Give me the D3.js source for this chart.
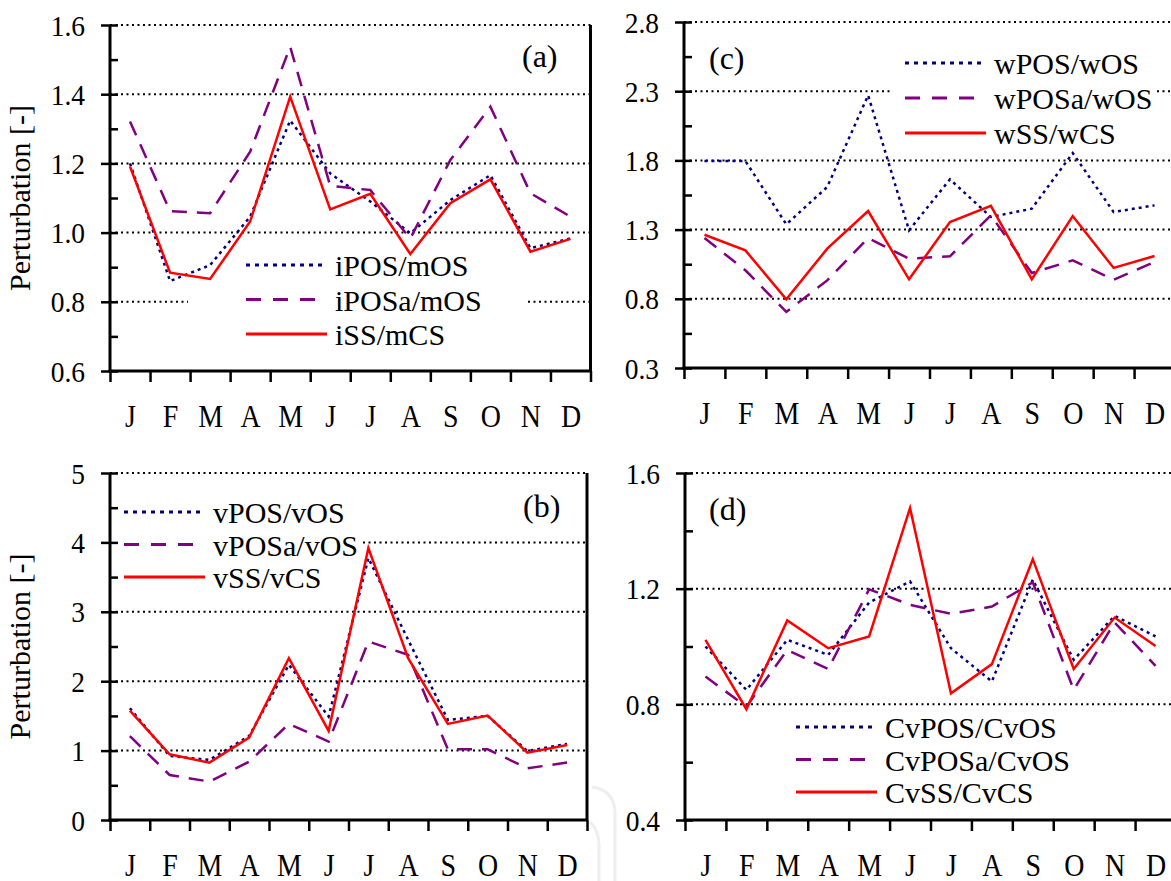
<!DOCTYPE html>
<html>
<head>
<meta charset="utf-8">
<script src="https://cdn.jsdelivr.net/npm/d3@7"></script>
<style>
  body { margin: 0; background: #fff; }
  svg { display: block; }
  text { font-family: "Liberation Serif", "Times New Roman", serif; fill: #000; }
</style>
</head>
<body>
<div class="chart"></div>
<script>
// month labels
const months = ['J', 'F', 'M', 'A', 'M', 'J', 'J', 'A', 'S', 'O', 'N', 'D'];

// (a)
const namesA = ['iPOS/mOS', 'iPOSa/mOS', 'iSS/mCS'];
const iPOS_mOS = [1.20, 0.86, 0.906, 1.046, 1.324, 1.171, 1.09, 0.998, 1.094, 1.166, 0.955, 0.983];
const iPOSa_mOS = [1.321, 1.062, 1.056, 1.234, 1.537, 1.135, 1.123, 0.983, 1.21, 1.364, 1.114, 1.046];
const iSS_mCS = [1.191, 0.884, 0.866, 1.032, 1.393, 1.067, 1.112, 0.938, 1.085, 1.154, 0.945, 0.982];
const ticksA = [0.6, 0.8, 1.0, 1.2, 1.4, 1.6];

// (b)
const namesB = ['vPOS/vOS', 'vPOSa/vOS', 'vSS/vCS'];
const vPOS_vOS = [1.61, 0.923, 0.865, 1.21, 2.236, 1.49, 3.774, 2.596, 1.442, 1.5, 0.995, 1.096];
const vPOSa_vOS = [1.21, 0.649, 0.553, 0.841, 1.385, 1.13, 2.572, 2.38, 1.019, 1.019, 0.745, 0.827];
const vSS_vCS = [1.577, 0.947, 0.827, 1.188, 2.332, 1.284, 3.918, 2.332, 1.385, 1.505, 0.971, 1.082];
const ticksB = [0, 1, 2, 3, 4, 5];

// (c)
const namesC = ['wPOS/wOS', 'wPOSa/wOS', 'wSS/wCS'];
const wPOS_wOS = [1.796, 1.796, 1.338, 1.608, 2.27, 1.295, 1.663, 1.391, 1.451, 1.853, 1.427, 1.475];
const wPOSa_wOS = [1.239, 1.006, 0.705, 0.933, 1.239, 1.09, 1.107, 1.403, 0.986, 1.078, 0.938, 1.066];
const wSS_wCS = [1.263, 1.15, 0.796, 1.162, 1.434, 0.941, 1.355, 1.471, 0.941, 1.398, 1.023, 1.109];
const ticksC = [0.3, 0.8, 1.3, 1.8, 2.3, 2.8];

// (d)
const namesD = ['CvPOS/CvOS', 'CvPOSa/CvOS', 'CvSS/CvCS'];
const CvPOS_CvOS = [1.0, 0.85, 1.023, 0.971, 1.152, 1.225, 0.994, 0.879, 1.231, 0.954, 1.106, 1.035];
const CvPOSa_CvOS = [0.896, 0.792, 0.988, 0.922, 1.198, 1.144, 1.113, 1.138, 1.222, 0.85, 1.083, 0.933];
const CvSS_CvCS = [1.023, 0.783, 1.09, 0.994, 1.035, 1.479, 0.838, 0.939, 1.302, 0.922, 1.1, 1.002];
const ticksD = [0.4, 0.8, 1.2, 1.6];

const W = 1171, H = 881;

// line styles: dotted navy, dashed purple, solid red
const styles = [
    {color: '#000080', dash: '3,4', legendDash: '4,5'},
    {color: '#800080', dash: '15,10', legendDash: '15,12'},
    {color: '#ff0000', dash: null, legendDash: null}
];

const svg = d3.select('.chart').append('svg')
    .attr('width', W)
    .attr('height', H);

svg.append('rect').attr('width', W).attr('height', H).attr('fill', '#fff');

// faint scan artefact between the bottom panels
svg.append('path')
    .attr('d', 'M592,787 Q614,790 615,812 L615,881 M590,822 Q599,830 599,846 L599,881')
    .attr('fill', 'none').attr('stroke', '#eeeeee').attr('stroke-width', 3);

const panels = [
    {series: [iPOS_mOS, iPOSa_mOS, iSS_mCS], names: namesA, ticks: ticksA, minor: 0.1, fmt: '.1f',
     x0: 110, x1: 590.5, yTop: 25, yBot: 371, rightBorder: true, ylabel: true,
     box: [188, 248, 340, 104], leg: {x: 246, y: 265, dy: 34.5}, tag: '(a)', tagX: 522, tagY: 67},
    {series: [vPOS_vOS, vPOSa_vOS, vSS_vCS], names: namesB, ticks: ticksB, minor: 0.5, fmt: 'd',
     x0: 110, x1: 587, yTop: 473, yBot: 820, rightBorder: true, ylabel: true,
     box: [111, 490, 252, 105], leg: {x: 124, y: 512, dy: 32.5}, tag: '(b)', tagX: 523, tagY: 517},
    {series: [wPOS_wOS, wPOSa_wOS, wSS_wCS], names: namesC, ticks: ticksC, minor: 0.25, fmt: '.1f',
     x0: 684, x1: 1175, yTop: 22, yBot: 368, rightBorder: false, ylabel: false,
     box: [890, 40, 265, 110], leg: {x: 905, y: 63, dy: 35}, tag: '(c)', tagX: 709, tagY: 69},
    {series: [CvPOS_CvOS, CvPOSa_CvOS, CvSS_CvCS], names: namesD, ticks: ticksD, minor: 0.2, fmt: '.1f',
     x0: 685, x1: 1176, yTop: 473, yBot: 820, rightBorder: false, ylabel: false,
     box: [770, 712, 313, 98], leg: {x: 796, y: 727, dy: 32.5}, tag: '(d)', tagX: 709, tagY: 520}
];

panels.forEach(p => {
    const g = svg.append('g');
    const lo = d3.min(p.ticks), hi = d3.max(p.ticks);

    const x = d3.scaleLinear().domain([0, 12]).range([p.x0, p.x1]);
    const y = d3.scaleLinear().domain([lo, hi]).range([p.yBot, p.yTop]);

    //dotted grid
    g.selectAll('.grid')
        .data(p.ticks.filter(t => t !== lo))
        .enter()
        .append('line')
        .attr('x1', p.x0)
        .attr('x2', p.x1)
        .attr('y1', d => y(d))
        .attr('y2', d => y(d))
        .attr('stroke', '#000')
        .attr('stroke-width', 2)
        .attr('stroke-dasharray', '2,3.5');

    //legend background hides the grid
    g.append('rect')
        .attr('x', p.box[0]).attr('y', p.box[1])
        .attr('width', p.box[2]).attr('height', p.box[3])
        .attr('fill', '#fff');

    //series
    const line = d3.line()
        .x((d, i) => x(i + 0.5))
        .y(d => y(d));

    p.series.forEach((s, k) => {
        g.append('path')
            .datum(s)
            .attr('d', line)
            .attr('fill', 'none')
            .attr('stroke', styles[k].color)
            .attr('stroke-width', 2.5)
            .attr('stroke-dasharray', styles[k].dash);
    });

    //y axis, major ticks cross the axis
    const yAxis = g.append('g')
        .attr('transform', 'translate(' + p.x0 + ',0)')
        .call(d3.axisLeft(y).tickValues(p.ticks).tickSize(0).tickFormat(d3.format(p.fmt)));
    yAxis.select('.domain').remove();
    yAxis.selectAll('.tick line')
        .attr('x1', -9).attr('x2', 8)
        .attr('stroke', '#000').attr('stroke-width', 2.5);
    yAxis.selectAll('.tick text')
        .attr('x', -25 / 0.9)
        .attr('dy', '0.33em')
        .attr('transform', 'scale(0.9,1)')
        .attr('text-anchor', 'end')
        .style('font-family', '"Liberation Serif", "Times New Roman", serif')
        .style('font-size', '30.5px');

    //minor ticks point inwards
    const minorVals = d3.range(Math.round((hi - lo) / p.minor) + 1)
        .map(i => lo + i * p.minor)
        .filter(v => !p.ticks.some(t => Math.abs(t - v) < 1e-6));
    const yMinor = g.append('g')
        .attr('transform', 'translate(' + p.x0 + ',0)')
        .call(d3.axisRight(y).tickValues(minorVals).tickSize(8).tickFormat(''));
    yMinor.select('.domain').remove();
    yMinor.selectAll('.tick line').attr('stroke', '#000').attr('stroke-width', 2.5);

    //x ticks at month boundaries
    const xTicks = g.append('g')
        .attr('transform', 'translate(0,' + p.yBot + ')')
        .call(d3.axisBottom(x).tickValues(d3.range(13)).tickSize(11).tickFormat(''));
    xTicks.select('.domain').remove();
    xTicks.selectAll('.tick line').attr('stroke', '#000').attr('stroke-width', 2.5);

    //month labels
    const xLabels = g.append('g')
        .attr('transform', 'translate(0,' + p.yBot + ')')
        .call(d3.axisBottom(x).tickValues(d3.range(12).map(i => i + 0.5)).tickSize(0)
            .tickFormat(v => months[Math.floor(v)]));
    xLabels.select('.domain').remove();
    xLabels.selectAll('.tick text')
        .attr('y', 56)
        .attr('dy', 0)
        .attr('transform', 'scale(0.9,1)')
        .style('font-family', '"Liberation Serif", "Times New Roman", serif')
        .style('font-size', '31px');

    //axis lines
    g.append('line')
        .attr('x1', p.x0).attr('x2', p.x0)
        .attr('y1', p.yTop).attr('y2', p.yBot + 1.5)
        .attr('stroke', '#000').attr('stroke-width', 3);
    g.append('line')
        .attr('x1', p.x0 - 1.5).attr('x2', p.x1)
        .attr('y1', p.yBot).attr('y2', p.yBot)
        .attr('stroke', '#000').attr('stroke-width', 3);
    if (p.rightBorder) {
        g.append('line')
            .attr('x1', p.x1).attr('x2', p.x1)
            .attr('y1', p.yTop).attr('y2', p.yBot)
            .attr('stroke', '#000').attr('stroke-width', 3);
    }

    //legend
    const legend = g.append('g');
    p.names.forEach((n, k) => {
        const ly = p.leg.y + k * p.leg.dy;
        legend.append('line')
            .attr('x1', p.leg.x).attr('x2', p.leg.x + 81)
            .attr('y1', ly).attr('y2', ly)
            .attr('stroke', styles[k].color)
            .attr('stroke-width', 3)
            .attr('stroke-dasharray', styles[k].legendDash);
        legend.append('text')
            .attr('x', p.leg.x + 89)
            .attr('y', ly + 11)
            .attr('font-size', 30)
            .text(n);
    });

    //panel tag
    g.append('text')
        .attr('x', p.tagX)
        .attr('y', p.tagY)
        .attr('font-size', 32)
        .text(p.tag);

    //y label
    if (p.ylabel) {
        g.append('text')
            .attr('transform', 'translate(30,' + ((p.yTop + p.yBot) / 2) + ') rotate(-90)')
            .attr('text-anchor', 'middle')
            .attr('font-size', 30)
            .text('Perturbation [-]');
    }
});
</script>
</body>
</html>
